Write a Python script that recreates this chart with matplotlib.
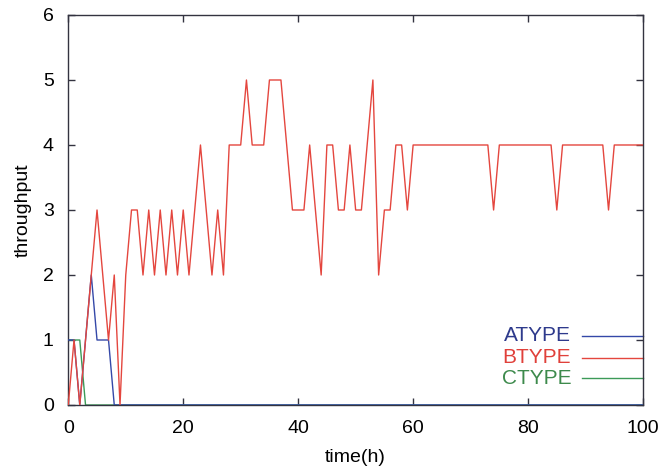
import matplotlib
matplotlib.use("Agg")
import matplotlib.pyplot as plt

plt.rcParams['font.family'] = ['Liberation Sans', 'DejaVu Sans']

# vertices of each polyline (time in h, throughput)
a_time = [0, 1, 2, 4, 5, 7, 8, 100]
a_val = [1, 1, 0, 2, 1, 1, 0, 0]

b_time = [0, 1, 2, 5, 7, 8, 9, 10, 11, 12, 13, 14, 15, 16, 17, 18, 19, 20, 21,
          23, 25, 26, 27, 28, 30, 31, 32, 34, 35, 37, 39, 41, 42, 44, 45, 46,
          47, 48, 49, 50, 51, 53, 54, 55, 56, 57, 58, 59, 60, 73, 74, 75, 84,
          85, 86, 93, 94, 95, 100]
b_val = [0, 1, 0, 3, 1, 2, 0, 2, 3, 3, 2, 3, 2, 3, 2, 3, 2, 3, 2,
         4, 2, 3, 2, 4, 4, 5, 4, 4, 5, 5, 3, 3, 4, 2, 4, 4,
         3, 3, 4, 3, 3, 5, 2, 3, 3, 4, 4, 3, 4, 4, 3, 4, 4,
         3, 4, 4, 3, 4, 4]

c_time = [0, 2, 3, 100]
c_val = [1, 1, 0, 0]

labels = ['ATYPE', 'BTYPE', 'CTYPE']
line_colors = ['#3448a8', '#e4463e', '#3c9a58']
text_colors = ['#2e3a8c', '#e0403a', '#3d8a4c']

fig = plt.figure(figsize=(6.61, 4.70), dpi=100)
ax = fig.add_axes([0.1033, 0.1383, 0.8695, 0.8298])

# draw order: C under A under B
ax.plot(c_time, c_val, color=line_colors[2], lw=1.0, zorder=2)
ax.plot(a_time, a_val, color=line_colors[0], lw=1.0, zorder=3)
ax.plot(b_time, b_val, color=line_colors[1], lw=1.0, zorder=4)

ax.set_xlim(0, 100)
ax.set_ylim(0, 6)
ax.set_xticks([0, 20, 40, 60, 80, 100])
ax.set_yticks([0, 1, 2, 3, 4, 5, 6])
ax.tick_params(direction='in', length=5, width=1, top=True, right=True,
               labelsize=14, pad=10.5, color='#333340')
for s in ax.spines.values():
    s.set_color('#333340')
    s.set_linewidth(1.0)

ax.set_xlabel('time(h)', fontsize=14, labelpad=9)
ax.set_ylabel('throughput', fontsize=14, labelpad=8)

# gnuplot-style key in the lower right
rows = [0.177, 0.121, 0.068]
for lab, lc, tc, yy in zip(labels, line_colors, text_colors, rows):
    ax.text(0.875, yy, lab, color=tc, fontsize=15, ha='right', va='center',
            transform=ax.transAxes)
    ax.plot([0.894, 1.0], [yy, yy], color=lc, lw=1.0, transform=ax.transAxes,
            clip_on=False)

fig.savefig('out.png', dpi=100)
